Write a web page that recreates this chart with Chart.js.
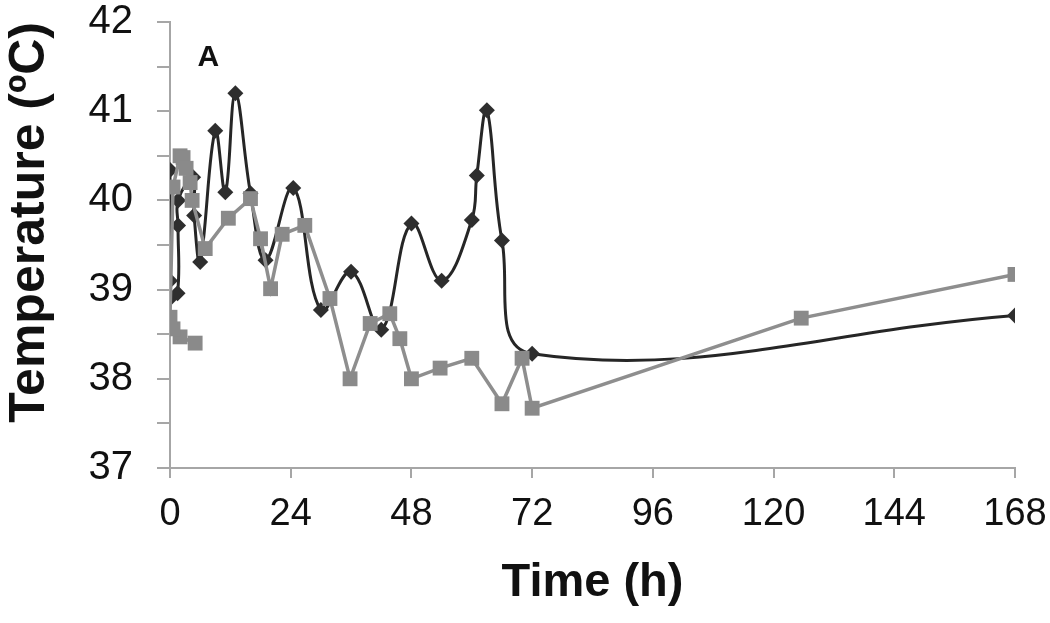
<!DOCTYPE html>
<html>
<head>
<meta charset="utf-8">
<script src="https://cdn.jsdelivr.net/npm/chart.js@4.4.1/dist/chart.umd.min.js"></script>
<style>
  html, body { margin: 0; padding: 0; background: #ffffff; }
  #wrap { width: 1050px; height: 623px; position: relative; }
</style>
</head>
<body>
<div id="wrap"><canvas id="c" width="1050" height="623"></canvas></div>
<script>
// ---- Data ----
const darkTime = [0, 0, 0, 1.5, 1.6, 1.6, 4.6, 4.8, 6, 9, 11, 13, 16, 19, 24.5, 30, 36, 42, 48, 54, 60, 61, 63, 66, 72, 168];
const darkTemp = [40.34, 39.1, 38.9, 38.96, 39.72, 40.0, 40.26, 39.83, 39.31, 40.78, 40.09, 41.2, 40.08, 39.33, 40.14, 38.77, 39.2, 38.55, 39.74, 39.1, 39.78, 40.28, 41.01, 39.55, 38.28, 38.71];

const greyTime = [5, 2, 0.6, 0, 0.6, 2, 2.6, 3.2, 4, 4.4, 7, 11.6, 16, 18, 20, 22.3, 26.8, 31.8, 35.8, 39.8, 43.7, 45.7, 48, 53.7, 60, 66, 70, 72, 125.5, 168];
const greyTemp = [38.4, 38.47, 38.56, 38.69, 40.15, 40.5, 40.48, 40.36, 40.2, 40.0, 39.46, 39.8, 40.02, 39.57, 39.01, 39.62, 39.72, 38.9, 38.0, 38.62, 38.73, 38.45, 38.0, 38.12, 38.23, 37.72, 38.23, 37.67, 38.68, 39.17];

const xTickValues = [0, 24, 48, 72, 96, 120, 144, 168];
const yMin = 37, yMax = 42, yStep = 0.5;
const xTitle = 'Time (h)';
const yTitle = 'Temperature (\u00BAC)';
const panelLabel = 'A';
const panelLabelAt = { x: 7.6, y: 41.6 };

const toPoints = (xs, ys) => xs.map((x, i) => ({ x: x, y: ys[i] }));
const FONT = '"Liberation Sans", Arial, sans-serif';

const panelLabelPlugin = {
  id: 'panelLabel',
  afterDatasetsDraw(chart) {
    const { ctx, scales } = chart;
    ctx.save();
    ctx.font = 'bold 30px ' + FONT;
    ctx.fillStyle = '#111';
    ctx.textAlign = 'center';
    ctx.textBaseline = 'middle';
    ctx.fillText(panelLabel, scales.x.getPixelForValue(panelLabelAt.x), scales.y.getPixelForValue(panelLabelAt.y));
    ctx.restore();
  }
};

new Chart(document.getElementById('c'), {
  type: 'line',
  data: {
    datasets: [
      {
        label: 'grey',
        data: toPoints(greyTime, greyTemp),
        borderColor: '#8e8e8e',
        backgroundColor: '#8a8a8a',
        borderWidth: 3.5,
        pointStyle: 'rect',
        pointRadius: 10.5,
        pointBorderWidth: 0,
        pointBackgroundColor: '#8a8a8a',
        tension: 0
      },
      {
        label: 'dark',
        data: toPoints(darkTime, darkTemp),
        borderColor: '#262626',
        backgroundColor: '#2e2e2e',
        borderWidth: 3,
        pointStyle: 'rectRot',
        pointRadius: 8,
        pointBorderWidth: 0,
        pointBackgroundColor: '#2e2e2e',
        tension: 0.4
      }
    ]
  },
  options: {
    responsive: false,
    animation: false,
    devicePixelRatio: 1,
    layout: { padding: 0 },
    plugins: { legend: { display: false }, tooltip: { enabled: false } },
    scales: {
      x: {
        type: 'linear',
        min: 0, max: 168,
        afterBuildTicks(scale) { scale.ticks = xTickValues.map(v => ({ value: v })); },
        afterFit(scale) { scale.height = 155; scale.paddingLeft = 10; scale.paddingRight = 35; },
        border: { display: true, color: '#a6a6a6', width: 2 },
        grid: { drawOnChartArea: false, drawTicks: true, tickLength: 10, color: '#a6a6a6', lineWidth: 2 },
        ticks: {
          autoSkip: false, maxRotation: 0, padding: 14, color: '#111',
          font: { family: FONT, size: 38 }
        },
        title: {
          display: true, text: xTitle, color: '#111',
          font: { family: FONT, size: 47, weight: 'bold' },
          padding: { top: 18, bottom: 12 }
        }
      },
      y: {
        type: 'linear',
        min: yMin, max: yMax,
        afterFit(scale) { scale.width = 170; scale.paddingTop = 22; scale.paddingBottom = 10; },
        ticks: {
          stepSize: yStep, autoSkip: false, padding: 24, color: '#111',
          font: { family: FONT, size: 40 },
          callback: v => (Number.isInteger(v) ? String(v) : '')
        },
        border: { display: true, color: '#a6a6a6', width: 2 },
        grid: { drawOnChartArea: false, drawTicks: true, tickLength: 13, color: '#a6a6a6', lineWidth: 2 },
        title: {
          display: true, text: yTitle, color: '#111', align: 'end',
          font: { family: FONT, size: 50, weight: 'bold' },
          padding: { top: 0, bottom: 10 }
        }
      }
    }
  },
  plugins: [panelLabelPlugin]
});
</script>
</body>
</html>
